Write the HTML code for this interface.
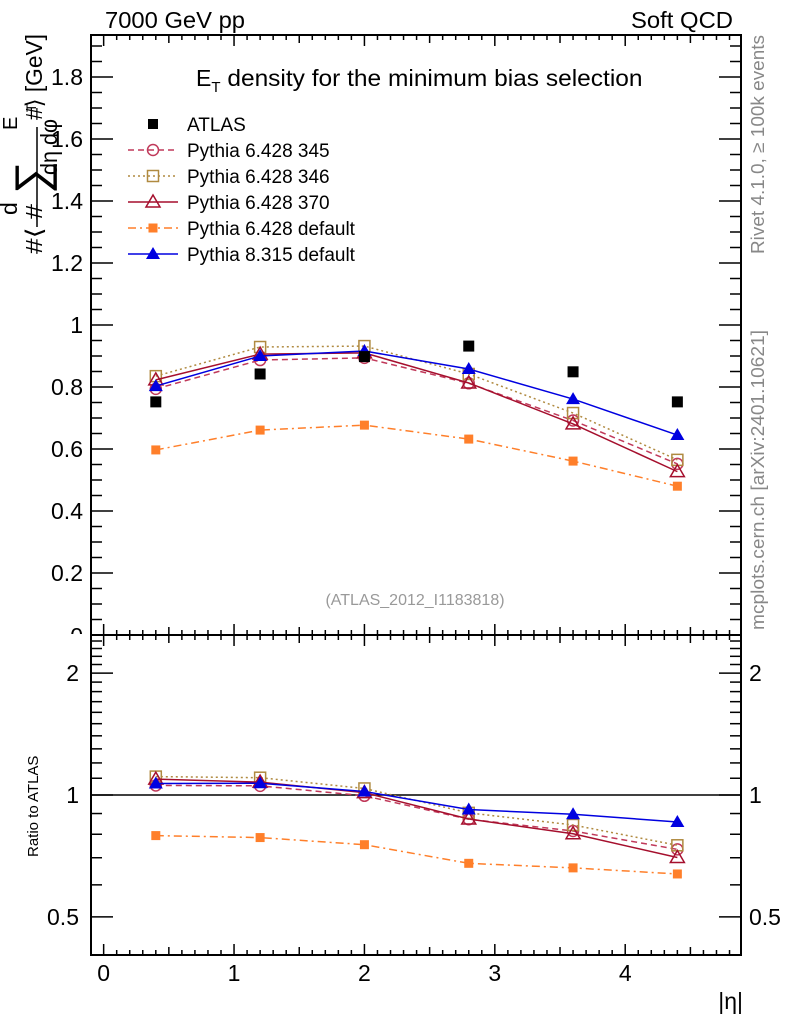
<!DOCTYPE html>
<html><head><meta charset="utf-8"><style>
body{margin:0;background:#fff}
svg{display:block;font-family:"Liberation Sans",sans-serif}
</style></head><body>
<svg id="chart" width="786" height="1024" viewBox="0 0 786 1024" xmlns="http://www.w3.org/2000/svg">
<defs><clipPath id="topclip"><rect x="0" y="0" width="786" height="634"/></clipPath></defs>
<g id="static">
<text x="105" y="28" font-size="23" textLength="140" lengthAdjust="spacingAndGlyphs">7000 GeV pp</text>
<text x="631" y="28" font-size="23" textLength="102" lengthAdjust="spacingAndGlyphs">Soft QCD</text>
<text x="196" y="86" font-size="23">E<tspan font-size="15" dy="6">T</tspan><tspan dy="-6" textLength="422" lengthAdjust="spacingAndGlyphs"> density  for the minimum bias selection</tspan></text>
<text transform="translate(764,254) rotate(-90)" font-size="18.5" fill="#888" textLength="219" lengthAdjust="spacingAndGlyphs">Rivet 4.1.0, ≥ 100k events</text>
<text transform="translate(764,630) rotate(-90)" font-size="18.5" fill="#888" textLength="300" lengthAdjust="spacingAndGlyphs">mcplots.cern.ch [arXiv:2401.10621]</text>
<text x="415" y="605" font-size="16" fill="#999" text-anchor="middle">(ATLAS_2012_I1183818)</text>
<g transform="translate(42,254) rotate(-90)" font-size="23">
<text x="0" y="0" textLength="50" lengthAdjust="spacingAndGlyphs">#⟨ #</text>
<text x="39" y="-25">d</text>
<text x="60" y="5" font-size="46">∑</text>
<text x="124" y="-25" font-size="20">E</text>
<text x="142" y="-6" font-size="14">T</text>
<text x="134" y="0" textLength="86" lengthAdjust="spacingAndGlyphs">#⟩ [GeV]</text>
<line x1="27" y1="-5" x2="127" y2="-5" stroke="#000" stroke-width="1.5"/>
<text x="79" y="15" textLength="56" lengthAdjust="spacingAndGlyphs">dη dφ</text>
</g>
<text transform="translate(38,857) rotate(-90)" font-size="15">Ratio to ATLAS</text>
<text x="743" y="1009" font-size="23" text-anchor="end">|η|</text>
<text x="83" y="644" font-size="23" text-anchor="end" clip-path="url(#topclip)">0</text>
</g>
<g id="axes"></g>
<g id="marks"></g>
<g id="legend"></g>
</svg>
<script>
const etaBins = [0.4, 1.2, 2.0, 2.8, 3.6, 4.4];
const atlasVals = [0.752, 0.842, 0.898, 0.932, 0.849, 0.752];
const p345Vals = [0.794, 0.887, 0.894, 0.812, 0.692, 0.552];
const p346Vals = [0.835, 0.929, 0.932, 0.842, 0.716, 0.565];
const p370Vals = [0.823, 0.906, 0.910, 0.813, 0.681, 0.527];
const pdefVals = [0.597, 0.661, 0.677, 0.632, 0.561, 0.480];
const p8Vals = [0.803, 0.900, 0.916, 0.858, 0.761, 0.645];
const mainYTicks = [0.2, 0.4, 0.6, 0.8, 1, 1.2, 1.4, 1.6, 1.8];
const ratioYTicks = [0.5, 1, 2];
const xTicks = [0, 1, 2, 3, 4];

const NS = "http://www.w3.org/2000/svg";
const L = 91, R = 741, T1 = 35, B1 = 635, B2 = 955;
const xMin = -0.097, xMax = 4.888;
const X = v => L + (v - xMin) / (xMax - xMin) * (R - L);
const Y1 = v => B1 - v * 310;
const Y2 = v => 795 - 405 * Math.log10(v);
function mk(tag, attrs, parent) {
  const e = document.createElementNS(NS, tag);
  for (const k in attrs) e.setAttribute(k, attrs[k]);
  parent.appendChild(e);
  return e;
}
const axes = document.getElementById('axes');
const marks = document.getElementById('marks');
const legend = document.getElementById('legend');

const f1 = mk('rect', {x: L, y: T1, width: R - L, height: B1 - T1, fill: 'none', stroke: '#000', 'stroke-width': 2}, axes);


const f2 = mk('rect', {x: L, y: B1, width: R - L, height: B2 - B1, fill: 'none', stroke: '#000', 'stroke-width': 2}, axes);



function tickLine(x1, y1, x2, y2) { mk('line', {x1, y1, x2, y2, stroke: '#000', 'stroke-width': 1.5}, axes); }

for (let i = 0; i <= 48; i++) {
  const v = i / 10; const px = X(v);
  const len = (i % 10 === 0) ? 11 : (i % 5 === 0 ? 8 : 5);
  [T1, B1].forEach(t => tickLine(px, t, px, t + len));
  [B1, B2].forEach(b => tickLine(px, b, px, b - len));
}
xTicks.forEach(v => {
  const t = mk('text', {x: X(v), y: 981, 'font-size': 23, 'text-anchor': 'middle'}, axes);
  t.textContent = v;
  
  
});
for (let i = 1; i <= 38; i++) {
  const v = i * 0.05; const py = Y1(v);
  const len = (i % 4 === 0) ? 22 : 11;
  tickLine(L, py, L + len, py);
  tickLine(R, py, R - len, py);
}
mainYTicks.forEach(v => {
  const t = mk('text', {x: 83, y: Y1(v) + 8, 'font-size': 23, 'text-anchor': 'end'}, axes);
  t.textContent = String(v);
  
  
});
const minorR = [0.6,0.7,0.8,0.9,1.1,1.2,1.3,1.4,1.5,1.6,1.7,1.8,1.9,2.1,2.2,2.3,2.4];
minorR.forEach(v => { const py = Y2(v); tickLine(L, py, L + 11, py); tickLine(R, py, R - 11, py); });
ratioYTicks.forEach(v => {
  const py = Y2(v);
  tickLine(L, py, L + 22, py); tickLine(R, py, R - 22, py);
  const t = mk('text', {x: 79, y: py + 8, 'font-size': 23, 'text-anchor': 'end'}, axes);
  t.textContent = String(v);
  
  
  const t2 = mk('text', {x: 749, y: py + 8, 'font-size': 23}, axes);
  t2.textContent = String(v);
  
  
});
const oneLine = mk('line', {x1: L, y1: Y2(1), x2: R, y2: Y2(1), stroke: '#000', 'stroke-width': 1.5}, axes);



function marker(type, color, x, y, parent) {
  let e;
  if (type === 'sqfill') e = mk('rect', {x: x - 5.5, y: y - 5.5, width: 11, height: 11, fill: color}, parent);
  else if (type === 'sqsmall') e = mk('rect', {x: x - 4.5, y: y - 4.5, width: 9, height: 9, fill: color}, parent);
  else if (type === 'sqopen') e = mk('rect', {x: x - 5.5, y: y - 5.5, width: 11, height: 11, fill: 'none', stroke: color, 'stroke-width': 1.5}, parent);
  else if (type === 'circ') e = mk('circle', {cx: x, cy: y, r: 5.5, fill: 'none', stroke: color, 'stroke-width': 1.5}, parent);
  else if (type === 'triopen') e = mk('path', {d: `M${x},${y-7}L${x+7},${y+5}L${x-7},${y+5}Z`, fill: 'none', stroke: color, 'stroke-width': 1.5}, parent);
  else e = mk('path', {d: `M${x},${y-7}L${x+7},${y+5}L${x-7},${y+5}Z`, fill: color}, parent);
  return e;
}
const series = [
  {name: 'Pythia 6.428 345', vals: p345Vals, color: '#c0395a', dash: '6,4', m: 'circ', id: 'p6-345'},
  {name: 'Pythia 6.428 346', vals: p346Vals, color: '#b08a40', dash: '2,3', m: 'sqopen', id: 'p6-346'},
  {name: 'Pythia 6.428 370', vals: p370Vals, color: '#a50f2d', dash: '', m: 'triopen', id: 'p6-370'},
  {name: 'Pythia 6.428 default', vals: pdefVals, color: '#ff7f2a', dash: '8,4,2,4', m: 'sqsmall', id: 'p6-default'},
  {name: 'Pythia 8.315 default', vals: p8Vals, color: '#0000e0', dash: '', m: 'trifill', id: 'p8-default'}
];
series.forEach(s => {
  const g = mk('g', {}, marks);
  
  
  const pts = etaBins.map((e, i) => X(e) + ',' + Y1(s.vals[i])).join(' ');
  const a = {points: pts, fill: 'none', stroke: s.color, 'stroke-width': 1.5};
  if (s.dash) a['stroke-dasharray'] = s.dash;
  mk('polyline', a, g);
  const rpts = etaBins.map((e, i) => X(e) + ',' + Y2(s.vals[i] / atlasVals[i])).join(' ');
  const a2 = Object.assign({}, a, {points: rpts});
  mk('polyline', a2, g);
  etaBins.forEach((e, i) => {
    const m1 = marker(s.m, s.color, X(e), Y1(s.vals[i]), g);
    
    
    const m2 = marker(s.m, s.color, X(e), Y2(s.vals[i] / atlasVals[i]), g);
    
    
  });
});
const ga = mk('g', {}, marks);


etaBins.forEach((e, i) => {
  const m = marker('sqfill', '#000', X(e), Y1(atlasVals[i]), ga);
  
  
});

const legRows = [{name: 'ATLAS', color: '#000', dash: null, m: 'sqfill'}].concat(series);
legRows.forEach((s, i) => {
  const y = 124 + i * 26;
  const g = mk('g', {}, legend);
  
  
  if (s.dash !== null) {
    const a = {x1: 128, y1: y, x2: 178, y2: y, stroke: s.color, 'stroke-width': 1.5};
    if (s.dash) a['stroke-dasharray'] = s.dash;
    mk('line', a, g);
  }
  if (s.m === 'sqfill') mk('rect', {x: 148, y: y - 5, width: 10, height: 10, fill: '#000'}, g);
  else marker(s.m, s.color, 153, y, g);
  const t = mk('text', {x: 187, y: y + 7, 'font-size': 19}, g);
  t.textContent = s.name;
});
</script>
</body></html>
